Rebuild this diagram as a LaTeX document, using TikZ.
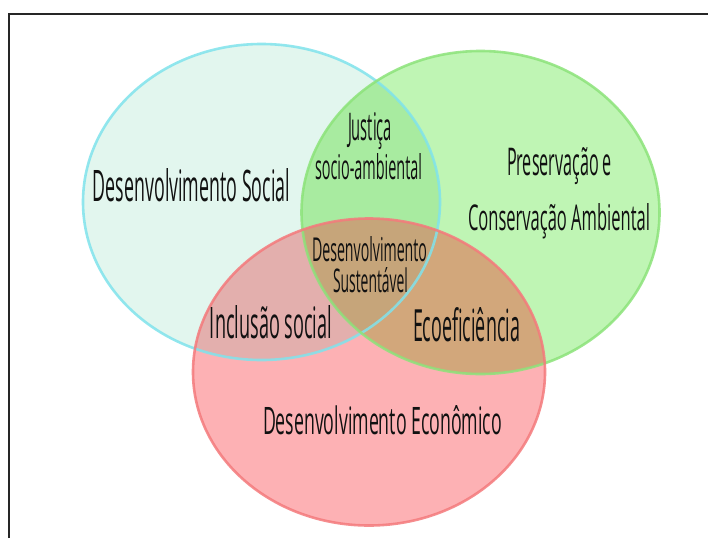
\documentclass[tikz,border=0pt]{standalone}
\usepackage{graphicx}
\usepackage{fontspec}
\setmainfont{Open Sans}
\definecolor{cyf}{HTML}{E2F6EE}
\definecolor{grf}{HTML}{BFF5B4}
\definecolor{rdf}{HTML}{FDB1B4}
\definecolor{cgf}{HTML}{A8EBA0}
\definecolor{rcf}{HTML}{E3AFAD}
\definecolor{rgf}{HTML}{D2A77B}
\definecolor{allf}{HTML}{C6A57A}
\definecolor{cyb}{HTML}{80E3EC}
\definecolor{grb}{HTML}{8CE37A}
\definecolor{rdb}{HTML}{F47A7C}
\definecolor{txt}{HTML}{111111}
\newcommand{\fitt}[3]{\resizebox{#1pt}{#2pt}{#3}}
\begin{document}
\begin{tikzpicture}[x=1pt,y=-1pt,
  lbl/.style={inner sep=0pt,anchor=base,text=txt},
  rim/.style={line width=2.6pt,draw opacity=0.85}]
\useasboundingbox (0,0) rectangle (708,538);
\fill[white] (0,0) rectangle (708,538);
\def\cyE{(261.5,202) ellipse [x radius=178.5pt, y radius=158pt]}
\def\grE{(480.5,212.5) ellipse [x radius=179pt, y radius=161.5pt]}
\def\rdE{(369,372) ellipse [x radius=176pt, y radius=153.5pt]}
% base fills
\fill[cyf] \cyE;
\fill[grf] \grE;
\fill[rdf] \rdE;
\begin{scope}\clip \cyE; \fill[cgf] \grE; \end{scope}
\begin{scope}\clip \cyE; \fill[rcf] \rdE; \end{scope}
\begin{scope}\clip \grE; \fill[rgf] \rdE; \end{scope}
\begin{scope}\clip \cyE; \clip \grE; \fill[allf] \rdE; \end{scope}
% rims
\draw[rim,cyb] \cyE;
\draw[rim,grb] \grE;
\draw[rim,rdb] \rdE;
% frame
\draw[line width=2pt,black!85] (9,538) -- (9,14) -- (708,14);
% labels
\node[lbl] (social) at (191.5,201) {\fitt{197}{33}{Desenvolvimento Social}};
\node[lbl] (just1) at (370,140) {\fitt{44}{28}{Justiça}};
\node[lbl] (just2) at (368.5,179) {\fitt{107}{26}{socio-ambiental}};
\node[lbl] (sust1) at (369.5,261) {\fitt{115}{25}{Desenvolvimento}};
\node[lbl] (sust2) at (370.5,292) {\fitt{75}{25}{Sustentável}};
\node[lbl] (pres1) at (559.5,175) {\fitt{105}{28}{Preservação e}};
\node[lbl] (pres2) at (559,230) {\fitt{182}{27}{Conservação Ambiental}};
\node[lbl] (incl) at (271,338) {\fitt{122}{33}{Inclusão social}};
\node[lbl] (eco) at (466.5,341) {\fitt{107}{34}{Ecoeficiência}};
\node[lbl] (econ) at (382.5,434) {\fitt{239}{29}{Desenvolvimento Econômico}};
\end{tikzpicture}
\end{document}
